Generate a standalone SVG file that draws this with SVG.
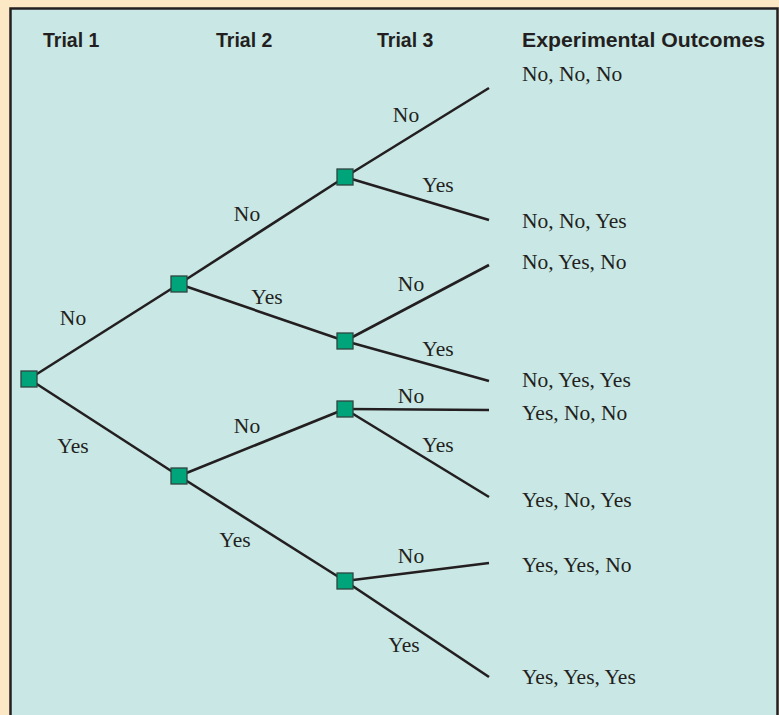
<svg xmlns="http://www.w3.org/2000/svg" width="779" height="715" viewBox="0 0 779 715">
  <style>
    .hdr { font-family: "Liberation Sans", Arial, sans-serif; font-weight: bold; font-size: 19.5px; fill: #231f20; }
    .lbl { font-family: "Liberation Serif", "Times New Roman", serif; font-size: 21.5px; fill: #231f20; }
    .out { font-family: "Liberation Serif", "Times New Roman", serif; font-size: 21.5px; fill: #231f20; }
    .edge { stroke: #231f20; stroke-width: 2.6; fill: none; stroke-linecap: butt; }
    .node { fill: #00a47b; stroke: #2f4440; stroke-width: 1.3; }
  </style>
  <defs>
    <rect id="sq" x="-8" y="-8" width="16" height="16"/>
  </defs>
  <rect x="0" y="0" width="779" height="715" fill="#fde8c6"/>
  <rect x="10.5" y="8.5" width="767" height="720" fill="#c9e8e5" stroke="#231f20" stroke-width="2.5"/>

  <g id="headers">
    <text class="hdr" x="43" y="47">Trial 1</text>
    <text class="hdr" x="216" y="47">Trial 2</text>
    <text class="hdr" x="377" y="47">Trial 3</text>
    <text class="hdr" x="522" y="47" textLength="243" lengthAdjust="spacingAndGlyphs">Experimental Outcomes</text>
  </g>

  <g id="connectors">
    <line class="edge" x1="29" y1="379" x2="179" y2="284"/>
    <line class="edge" x1="29" y1="379" x2="179" y2="476"/>
    <line class="edge" x1="179" y1="284" x2="345" y2="177"/>
    <line class="edge" x1="179" y1="284" x2="345" y2="341"/>
    <line class="edge" x1="179" y1="476" x2="345" y2="409"/>
    <line class="edge" x1="179" y1="476" x2="345" y2="581"/>
    <line class="edge" x1="345" y1="177" x2="489" y2="88"/>
    <line class="edge" x1="345" y1="177" x2="489" y2="220"/>
    <line class="edge" x1="345" y1="341" x2="489" y2="265"/>
    <line class="edge" x1="345" y1="341" x2="489" y2="381"/>
    <line class="edge" x1="345" y1="409" x2="489" y2="410"/>
    <line class="edge" x1="345" y1="409" x2="489" y2="497"/>
    <line class="edge" x1="345" y1="581" x2="489" y2="563"/>
    <line class="edge" x1="345" y1="581" x2="489" y2="677"/>
  </g>

  <g id="edge-labels" text-anchor="middle">
    <text class="lbl" x="73" y="325">No</text>
    <text class="lbl" x="73" y="453">Yes</text>
    <text class="lbl" x="247" y="221">No</text>
    <text class="lbl" x="267" y="304">Yes</text>
    <text class="lbl" x="247" y="433">No</text>
    <text class="lbl" x="235" y="547">Yes</text>
    <text class="lbl" x="406" y="122">No</text>
    <text class="lbl" x="438" y="192">Yes</text>
    <text class="lbl" x="411" y="291">No</text>
    <text class="lbl" x="438" y="356">Yes</text>
    <text class="lbl" x="411" y="403">No</text>
    <text class="lbl" x="438" y="452">Yes</text>
    <text class="lbl" x="411" y="563">No</text>
    <text class="lbl" x="404" y="652">Yes</text>
  </g>

  <g id="node-root" class="node"><use href="#sq" x="29" y="379"/></g>
  <g id="node-t2-no" class="node"><use href="#sq" x="179" y="284"/></g>
  <g id="node-t2-yes" class="node"><use href="#sq" x="179" y="476"/></g>
  <g id="node-t3-nono" class="node"><use href="#sq" x="345" y="177"/></g>
  <g id="node-t3-noyes" class="node"><use href="#sq" x="345" y="341"/></g>
  <g id="node-t3-yesno" class="node"><use href="#sq" x="345" y="409"/></g>
  <g id="node-t3-yesyes" class="node"><use href="#sq" x="345" y="581"/></g>

  <g id="outcomes">
    <text class="out" x="522" y="81">No, No, No</text>
    <text class="out" x="522" y="228">No, No, Yes</text>
    <text class="out" x="522" y="269">No, Yes, No</text>
    <text class="out" x="522" y="387">No, Yes, Yes</text>
    <text class="out" x="522" y="420">Yes, No, No</text>
    <text class="out" x="522" y="507">Yes, No, Yes</text>
    <text class="out" x="522" y="572">Yes, Yes, No</text>
    <text class="out" x="522" y="684">Yes, Yes, Yes</text>
  </g>
</svg>
